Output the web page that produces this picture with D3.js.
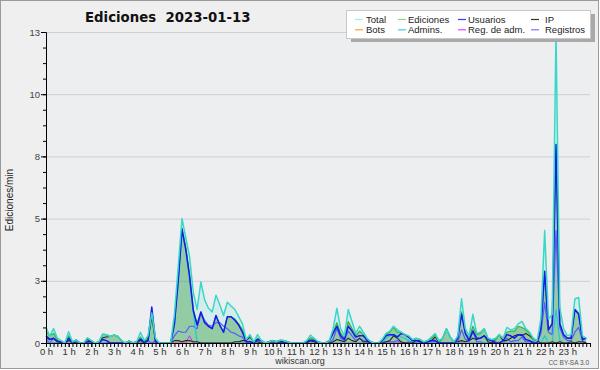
<!DOCTYPE html>
<html><head><meta charset="utf-8">
<script src="https://cdn.jsdelivr.net/npm/d3@7"></script>
<style>body{margin:0;background:#fff} svg{display:block}</style>
</head><body><svg id="c" width="600" height="370"></svg>
<script>
// ---------- data (10-minute bins, 0h00 .. 23h50) ----------
const hourLabels = ["0 h","1 h","2 h","3 h","4 h","5 h","6 h","7 h","8 h","9 h","10 h","11 h","12 h","13 h","14 h","15 h","16 h","17 h","18 h","19 h","20 h","21 h","22 h","23 h"];
const yTickValues = [0, 2.6, 5.2, 7.8, 10.4, 13];
const yTickLabels = ["0","3","5","8","10","13"];
const seriesNames = ["Total","Ediciones","Usuarios","IP","Bots","Admins.","Reg. de adm.","Registros"];

const total = [0.65,0.3,0.6,0.2,0.1,0,0.47,0.05,0.12,0,0,0.22,
0.1,0,0.05,0.37,0.35,0.27,0.33,0.28,0.1,0,0.08,0,
0.05,0.45,0.1,0.3,1.25,0.2,0,0,0,0,1.2,3.2,
5.2,4.4,3.6,2.1,1.4,2.55,1.8,1.45,1.3,2.0,1.6,1.15,
1.7,1.55,1.4,1.1,0.8,0.15,0.35,0.05,0.35,0.1,0,0.05,
0.1,0.05,0.12,0.1,0.05,0,0,0,0,0.1,0.33,0.2,
0.05,0,0,0.1,0.6,1.45,0.6,0.3,1.4,0.9,0.4,0.7,
0.45,0.2,0.05,0,0,0.15,0.4,0.5,0.7,0.55,0.45,0.35,
0.3,0.15,0.2,0.15,0.05,0.1,0.25,0.4,0.1,0.2,0.6,0.25,
0.05,0.3,1.85,0.6,0.3,1.2,0.4,0.45,0.6,0.2,0.15,0.2,
0.35,0.2,0.65,0.55,0.6,0.8,0.9,0.6,0.45,0.2,0.1,1.0,
4.7,1.0,1.2,13.0,1.5,0.6,0.3,0.35,1.85,1.9,0.3,0.2];

const ediciones = [0.5,0.3,0.4,0.15,0.05,0,0.3,0.05,0.12,0,0,0.2,
0.1,0,0.05,0.37,0.35,0.27,0.33,0.28,0.1,0,0.08,0,
0.05,0.25,0.05,0.2,1.25,0.1,0,0,0,0,0.9,2.7,
4.8,4.0,2.9,1.4,0.8,1.3,0.85,0.7,0.6,1.15,0.75,0.45,
1.1,1.1,1.0,0.8,0.55,0.15,0.3,0.05,0.2,0.1,0,0.05,
0.1,0.05,0.12,0.1,0.05,0,0,0,0,0.05,0.22,0.15,
0.05,0,0,0.1,0.45,0.85,0.4,0.2,0.9,0.6,0.3,0.5,
0.35,0.15,0.05,0,0,0.1,0.35,0.45,0.65,0.45,0.45,0.35,
0.25,0.1,0.2,0.15,0.05,0.1,0.2,0.35,0.05,0.2,0.6,0.25,
0.05,0.25,1.3,0.45,0.2,0.7,0.35,0.4,0.6,0.2,0.1,0.15,
0.35,0.2,0.45,0.5,0.5,0.7,0.65,0.55,0.4,0.15,0.1,0.6,
3.0,0.55,0.85,8.3,0.85,0.35,0.2,0.25,1.4,1.25,0.2,0.2];

const usuarios = [0.3,0.15,0.2,0.05,0.05,0,0.2,0,0.12,0,0,0.05,
0.05,0,0,0.15,0.1,0,0,0,0,0,0.08,0,
0.05,0.15,0.05,0.1,1.5,0.05,0,0,0,0,0.8,2.6,
4.75,3.9,2.8,1.35,0.75,1.3,0.85,0.7,0.6,1.15,0.75,0.45,
1.1,1.1,0.95,0.75,0.45,0.05,0.05,0,0.15,0.1,0,0.05,
0.1,0.05,0.1,0,0,0,0,0,0,0.05,0.12,0.1,
0.05,0,0,0.1,0.4,0.7,0.3,0.15,0.7,0.5,0.25,0.3,
0.3,0.1,0,0,0,0.1,0.3,0.35,0.35,0.25,0.4,0.35,
0.25,0.1,0.1,0.05,0,0.05,0.1,0.1,0,0,0,0,
0,0.2,1.2,0.4,0.1,0.5,0.2,0.2,0.3,0.15,0.1,0,
0,0.1,0.35,0.3,0.2,0.35,0.35,0.15,0.1,0,0,0.6,
3.0,0.55,0.8,8.3,0.8,0.35,0.2,0.2,1.4,1.2,0.15,0.2];

const ip = [0.2,0.15,0.2,0.1,0,0,0.1,0.05,0,0,0,0.15,
0.05,0,0.05,0.22,0.25,0.27,0.33,0.28,0.1,0,0,0,
0,0.1,0,0.1,1.1,0.05,0,0,0,0,0.1,0.1,
0.05,0.1,0.1,0.05,0.05,0,0,0,0,0,0,0,
0,0,0.05,0.05,0.1,0.1,0.25,0.05,0.05,0,0,0,
0,0,0.02,0.1,0.05,0,0,0,0,0,0.1,0.05,
0,0,0,0,0.05,0.15,0.1,0.05,0.2,0.1,0.05,0.2,
0.05,0.05,0.05,0,0,0,0.05,0.1,0.3,0.2,0.05,0,
0,0,0.1,0.1,0.05,0.05,0.1,0.25,0.05,0.2,0.6,0.25,
0.05,0.05,0.1,0.05,0.1,0.2,0.15,0.2,0.3,0.05,0,0.15,
0.35,0.1,0.1,0.2,0.3,0.35,0.3,0.4,0.3,0.15,0.1,0,
0,0,0.05,0,0.05,0,0,0.05,0,0.05,0.05,0];

const registros = [0.15,0,0.2,0.05,0.05,0,0.17,0,0,0,0,0.02,
0,0,0,0,0,0,0,0,0,0,0,0,
0,0.2,0.05,0.1,0,0.1,0,0,0,0,0.3,0.5,
0.45,0.45,0.7,0.7,0.6,1.25,0.95,0.75,0.7,0.85,0.85,0.7,
0.6,0.45,0.4,0.3,0.25,0,0.05,0,0.15,0,0,0,
0,0,0,0,0,0,0,0,0,0.05,0.1,0.05,
0,0,0,0,0.15,0.6,0.2,0.1,0.5,0.3,0.1,0.2,
0.1,0.05,0,0,0,0.05,0.05,0.05,0.05,0.1,0,0,
0.05,0.05,0,0,0,0,0.05,0.05,0.05,0,0,0,
0,0.05,0.55,0.15,0.1,0.5,0.05,0.05,0,0,0.05,0.05,
0,0,0.2,0.05,0.1,0.1,0.25,0.05,0.05,0.05,0,0.4,
1.7,0.45,0.35,4.7,0.65,0.25,0.1,0.1,0.45,0.65,0.1,0];

const admins = [0,0,0,0,0,0,0,0,0,0,0,0,
0,0,0,0,0,0,0,0,0,0,0,0,
0,0,0,0,1.2,0,0,0,0,0,0.8,2.5,
4.6,4.0,2.6,1.3,0,0,0,0,0,0,0,0,
0,0,0,0,0,0,0,0,0,0,0,0,
0,0,0,0,0,0,0,0,0,0,0,0,
0,0,0,0,0,0,0,0,0,0,0,0,
0,0,0,0,0,0,0.2,0.3,0.35,0.3,0.25,0.2,
0.1,0,0,0,0,0,0,0,0,0,0,0,
0,0,0,0,0,0,0,0,0,0,0,0,
0,0,0,0,0,0,0,0,0,0,0,0,
0.3,0,0,1.4,0.1,0,0,0,0,0,0,0];

const regAdm = [0,0,0,0,0,0,0,0,0,0,0,0,
0,0,0,0,0,0,0,0,0,0,0,0,
0,0,0,0,0,0,0,0,0,0,0,0,
0,0,0.3,0,0,0,0,0,0,0,0,0,
0,0,0,0,0,0,0,0,0,0,0,0,
0,0,0,0,0,0,0,0,0,0,0,0,
0,0,0,0,0,0,0,0,0,0,0,0,
0,0,0,0,0,0,0,0,0,0,0,0,
0,0,0,0,0,0,0,0,0,0,0,0,
0,0,0,0,0,0,0,0,0,0,0,0,
0,0,0,0,0,0,0,0,0,0,0,0,
0,0,0,0,0,0,0,0,0,0,0,0];

const bots = [0,0,0,0,0,0,0,0,0,0,0,0,
0,0,0,0,0,0,0,0,0,0,0,0,
0,0,0,0,0,0,0,0,0,0,0,0,
0,0,0,0,0,0,0,0,0,0,0,0,
0,0,0,0,0,0,0,0,0,0,0,0,
0,0,0,0,0,0,0,0,0,0,0,0,
0,0,0,0,0,0,0,0,0,0,0,0,
0,0,0,0,0,0,0,0,0,0,0,0,
0,0,0,0,0,0,0,0,0,0,0,0,
0,0,0,0,0,0,0,0,0,0,0,0,
0,0,0,0,0,0,0,0,0,0,0,0,
0,0,0,0,0,0,0,0,0,0,0,0];

// ---------- drawing ----------
const svg = d3.select("#c");
const F = "'Liberation Sans', Arial, sans-serif";
const x = d3.scaleLinear().domain([0,144]).range([46,590]);
const y = d3.scaleLinear().domain([0,13]).range([343,32]);

svg.append("rect").attr("x",0.5).attr("y",0.5).attr("width",598).attr("height",368)
  .attr("fill","#efefef").attr("stroke","#9a9a9a");
svg.append("rect").attr("x",46).attr("y",32).attr("width",544).attr("height",311).attr("fill","#eceef0");

// grid
svg.append("g").selectAll("line").data(yTickValues.slice(1)).join("line")
  .attr("x1",46).attr("x2",590).attr("y1",d=>y(d)+0.5).attr("y2",d=>y(d)+0.5)
  .attr("stroke","#cfcfcf").attr("stroke-width",1);

const area = d3.area().x((d,i)=>x(i)).y0(y(0)).y1(d=>y(d));
const line = d3.line().x((d,i)=>x(i)).y(d=>y(d));

svg.append("path").datum(total).attr("d",area).attr("fill","#40e0d0").attr("fill-opacity",0.13);
svg.append("path").datum(ediciones).attr("d",area).attr("fill","#2e9a3a").attr("fill-opacity",0.4);

const lines = [
  [bots,"#ff9a1a",1],
  [regAdm,"#cc33ff",1],
  [registros,"#5a5aff",1.2],
  [admins,"#22c8d8",1.2],
  [ip,"#2a2a2a",1.1],
  [ediciones,"#33b33a",1.2],
  [usuarios,"#1818ee",1.5],
  [total,"#38d8c8",1.5]
];
lines.forEach(([data,col,w])=>{
  svg.append("path").datum(data).attr("d",line).attr("fill","none")
    .attr("stroke",col).attr("stroke-width",w).attr("stroke-linejoin","round");
});

// axes
const yMinor = d3.axisLeft(y).tickValues(d3.range(0,13.01,0.65)).tickSize(3).tickFormat("");
svg.append("g").attr("transform","translate(46,0)").call(yMinor)
  .call(g=>g.select(".domain").remove());
const yAxis = d3.axisLeft(y).tickValues(yTickValues).tickSize(5).tickPadding(1)
  .tickFormat((d,i)=>yTickLabels[i]);
svg.append("g").attr("transform","translate(46,0)").call(yAxis)
  .call(g=>g.select(".domain").attr("stroke","#000"))
  .call(g=>g.selectAll("text").attr("font-family",F).attr("font-size",9.5).attr("fill","#444"));

const xMinor = d3.axisBottom(x).tickValues(d3.range(0,145,1)).tickSize(4).tickFormat("");
svg.append("g").attr("transform","translate(0,343)").call(xMinor)
  .call(g=>g.select(".domain").remove());
const xAxis = d3.axisBottom(x).tickValues(d3.range(0,144,6)).tickSize(4).tickPadding(1)
  .tickFormat((d,i)=>hourLabels[i]);
svg.append("g").attr("transform","translate(0,343)").call(xAxis)
  .call(g=>g.select(".domain").attr("stroke","#000").attr("d","M46,0.5H590"))
  .call(g=>g.selectAll("text").attr("font-family",F).attr("font-size",9.5).attr("fill","#333"));

// titles
svg.append("text").attr("x",85).attr("y",21.5).text("Ediciones  2023-01-13")
  .attr("font-family","'DejaVu Sans', sans-serif").attr("font-weight","bold").attr("font-size",13.3)
  .attr("fill","#111").style("white-space","pre");
svg.append("text").attr("transform","translate(13,200) rotate(-90)").attr("text-anchor","middle")
  .text("Ediciones/min").attr("font-family",F).attr("font-size",10).attr("fill","#222");
svg.append("text").attr("x",300).attr("y",364).attr("text-anchor","middle").text("wikiscan.org")
  .attr("font-family",F).attr("font-size",9).attr("fill","#333");
svg.append("text").attr("x",589).attr("y",365).attr("text-anchor","end").text("CC BY-SA 3.0")
  .attr("font-family",F).attr("font-size",6.5).attr("fill","#555");

// legend
const lg = svg.append("g");
lg.append("rect").attr("x",351).attr("y",14).attr("width",244).attr("height",28).attr("fill","#a9a9a9");
lg.append("rect").attr("x",346.5).attr("y",10.5).attr("width",244).attr("height",28)
  .attr("fill","#fff").attr("stroke","#c8c8c8");
const legendColors = ["#a8e8e6","#88d888","#3a3aff","#333333","#ffa030","#30d0e0","#dd44ff","#7777ff"];
const colLine = [[355,363],[398,406],[458,466],[531,539]];
const colText = [366,408,468,545];
seriesNames.forEach((n,i)=>{
  const r = Math.floor(i/4), c = i%4;
  const ly = 19.5 + r*10.3;
  lg.append("line").attr("x1",colLine[c][0]).attr("x2",colLine[c][1]).attr("y1",ly).attr("y2",ly)
    .attr("stroke",legendColors[i]).attr("stroke-width",1.2);
  lg.append("text").attr("x",colText[c]).attr("y",ly+3.3).text(n)
    .attr("font-family",F).attr("font-size",9.5).attr("fill","#222");
});
</script></body></html>
